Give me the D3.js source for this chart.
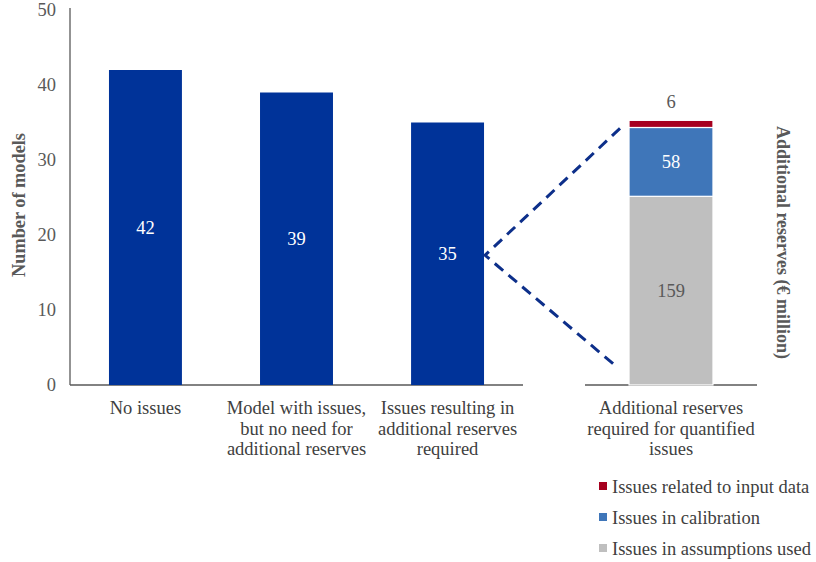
<!DOCTYPE html>
<html>
<head>
<meta charset="utf-8">
<script src="https://cdn.jsdelivr.net/npm/d3@7"></script>
<style>
    body { margin: 0; background: #fff; }
    text { font-family: "Liberation Serif", "Times New Roman", serif; }
</style>
</head>
<body>
<svg id="chart" width="816" height="562"></svg>
<script>
// data
var categories = ["No issues", "Model with issues, but no need for additional reserves", "Issues resulting in additional reserves required"];
var categoryLines = [["No issues"], ["Model with issues,", "but no need for", "additional reserves"], ["Issues resulting in", "additional reserves", "required"]];
var models = [42, 39, 35];

var stackCategory = ["Additional reserves", "required for quantified", "issues"];
var seriesNames = ["Issues in assumptions used", "Issues in calibration", "Issues related to input data"];
var reserves = [159, 58, 6];
var seriesColors = ["#bfbfbf", "#3f76b9", "#a6001f"];
var yTicks = [0, 10, 20, 30, 40, 50];

var svg = d3.select("#chart");

var dims = { top: 10, bottom: 385, left: 70, right: 523, right2Left: 585, right2Right: 757 };
var fontSize = "18.5px";

var xScale = d3.scaleBand()
    .domain(categories)
    .range([dims.left, dims.right])
    .paddingInner(0.517)
    .paddingOuter(0.258);

var yScale = d3.scaleLinear()
    .domain([0, 50])
    .range([dims.bottom, dims.top]);

// secondary (hidden) axis for € million
var y2Scale = d3.scaleLinear()
    .domain([0, 316])
    .range([dims.bottom, dims.top]);

// left axis
var yAxis = svg.append("g")
    .attr("transform", `translate(${dims.left},0)`)
    .call(d3.axisLeft(yScale).tickValues(yTicks).tickSize(0).tickPadding(14));
yAxis.select(".domain").attr("stroke", "#595959").attr("stroke-width", 1.3).attr("d", `M0,${dims.top - 2}V${dims.bottom}`);
yAxis.selectAll("text")
    .attr("fill", "#595959")
    .style("font-family", "Liberation Serif")
    .style("font-size", fontSize);

// baselines
svg.append("line")
    .attr("x1", dims.left).attr("x2", dims.right)
    .attr("y1", dims.bottom).attr("y2", dims.bottom)
    .attr("stroke", "#595959").attr("stroke-width", 1.3);
svg.append("line")
    .attr("x1", dims.right2Left).attr("x2", dims.right2Right)
    .attr("y1", dims.bottom).attr("y2", dims.bottom)
    .attr("stroke", "#595959").attr("stroke-width", 1.3);

// main bars
svg.selectAll("rect.bar")
    .data(models)
    .enter()
    .append("rect")
    .attr("class", "bar")
    .attr("x", (d, i) => xScale(categories[i]))
    .attr("y", d => yScale(d))
    .attr("width", xScale.bandwidth())
    .attr("height", d => yScale(0) - yScale(d))
    .attr("fill", "#003399");

svg.selectAll("text.barlabel")
    .data(models)
    .enter()
    .append("text")
    .attr("class", "barlabel")
    .attr("x", (d, i) => xScale(categories[i]) + xScale.bandwidth() / 2)
    .attr("y", d => yScale(d / 2) + 6)
    .attr("text-anchor", "middle")
    .attr("fill", "#fff")
    .style("font-size", fontSize)
    .text(d => d);

// category labels
categoryLines.forEach(function(lines, i) {
    var t = svg.append("text")
        .attr("text-anchor", "middle")
        .attr("fill", "#404040")
        .style("font-size", fontSize);
    lines.forEach(function(l, j) {
        t.append("tspan")
            .attr("x", xScale(categories[i]) + xScale.bandwidth() / 2)
            .attr("y", 414 + j * 20.5)
            .text(l);
    });
});

// stacked bar
var stackX = d3.scaleBand()
    .domain(["reserves"])
    .range([dims.right2Left, dims.right2Right])
    .padding(0.344);

var cum = 0;
var stackData = reserves.map(function(v, i) {
    var seg = { name: seriesNames[i], value: v, y0: cum, y1: cum + v, color: seriesColors[i] };
    cum += v;
    return seg;
});

svg.selectAll("rect.seg")
    .data(stackData)
    .enter()
    .append("rect")
    .attr("class", "seg")
    .attr("x", stackX("reserves"))
    .attr("y", d => y2Scale(d.y1))
    .attr("width", stackX.bandwidth())
    .attr("height", d => y2Scale(d.y0) - y2Scale(d.y1))
    .attr("fill", d => d.color)
    .attr("stroke", "#fff")
    .attr("stroke-width", 1.2);

var cx = stackX("reserves") + stackX.bandwidth() / 2;
svg.selectAll("text.seglabel")
    .data(stackData)
    .enter()
    .append("text")
    .attr("class", "seglabel")
    .attr("x", cx)
    .attr("y", (d, i) => i === 2 ? y2Scale(d.y1) - 12 : y2Scale((d.y0 + d.y1) / 2) + 6)
    .attr("text-anchor", "middle")
    .attr("fill", (d, i) => i === 1 ? "#fff" : "#595959")
    .style("font-size", fontSize)
    .text(d => d.value);

var st = svg.append("text")
    .attr("text-anchor", "middle")
    .attr("fill", "#404040")
    .style("font-size", fontSize);
stackCategory.forEach(function(l, j) {
    st.append("tspan").attr("x", cx).attr("y", 414 + j * 20.5).text(l);
});

// dashed connector
var vx = xScale(categories[2]) + xScale.bandwidth() + 1;
var vy = yScale(17.3);
svg.append("path")
    .attr("d", `M620,${y2Scale(cum) + 8}L${vx},${vy}L617,${dims.bottom - 18}`)
    .attr("fill", "none")
    .attr("stroke", "#0d2f8a")
    .attr("stroke-width", 3)
    .attr("stroke-dasharray", "11,7");

// axis titles
svg.append("text")
    .attr("transform", `translate(25,${yScale(24)}) rotate(-90)`)
    .attr("text-anchor", "middle")
    .attr("fill", "#595959")
    .style("font-size", "18.3px")
    .style("font-weight", "bold")
    .text("Number of models");

svg.append("text")
    .attr("transform", `translate(777,${yScale(19)}) rotate(90)`)
    .attr("text-anchor", "middle")
    .attr("fill", "#595959")
    .style("font-size", "18px")
    .style("font-weight", "bold")
    .text("Additional reserves (€ million)");

// legend (top to bottom: reversed series)
var legendItems = seriesNames.slice().reverse();
var legendColors = seriesColors.slice().reverse();
var legend = svg.selectAll("g.legend")
    .data(legendItems)
    .enter()
    .append("g")
    .attr("class", "legend")
    .attr("transform", (d, i) => `translate(599,${487 + i * 31})`);
legend.append("rect")
    .attr("x", 0).attr("y", -5)
    .attr("width", 8).attr("height", 8)
    .attr("fill", (d, i) => legendColors[i]);
legend.append("text")
    .attr("x", 13).attr("y", 6)
    .attr("fill", "#404040")
    .style("font-size", fontSize)
    .text(d => d);
</script>
</body>
</html>
